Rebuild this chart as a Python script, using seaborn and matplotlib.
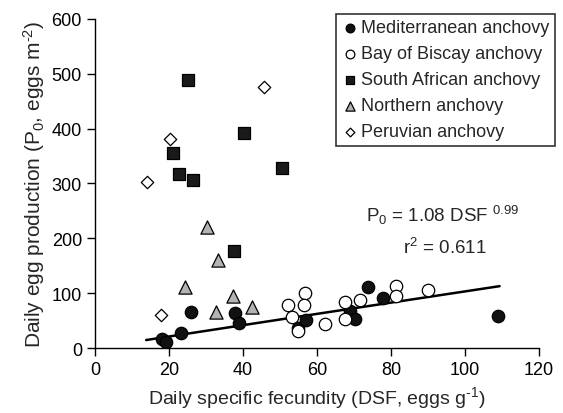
import matplotlib
matplotlib.use("Agg")
import matplotlib.pyplot as plt
import seaborn as sns
import numpy as np
import pandas as pd

sns.set_style("ticks")
plt.rcParams['font.family'] = ['Liberation Sans', 'DejaVu Sans']
plt.rcParams['mathtext.fontset'] = 'custom'
plt.rcParams['mathtext.rm'] = 'Liberation Sans'
plt.rcParams['mathtext.it'] = 'Liberation Sans'

med_x = [18.0, 19.1, 23.1, 25.8, 37.9, 38.9, 54.9, 56.9, 68.8, 70.2, 73.8, 77.9, 109.1]
med_y = [17, 11, 27, 66, 63, 46, 36, 51, 68, 52, 111, 91, 58]

bis_x = [52.1, 53.3, 54.9, 56.8, 56.4, 62.3, 67.7, 67.7, 71.7, 81.3, 81.3, 90.1]
bis_y = [79, 57, 31, 100, 79, 43, 83, 52, 88, 113, 94, 106]

saf_x = [25.2, 40.2, 21.1, 22.8, 26.5, 50.5, 37.6]
saf_y = [489, 392, 356, 317, 306, 329, 176]

nor_x = [30.3, 33.1, 24.4, 37.2, 32.6, 42.5]
nor_y = [221, 160, 111, 94, 66, 75]

per_x = [45.6, 20.3, 13.9, 17.8]
per_y = [475, 381, 303, 61]

fit_a = 1.08
fit_b = 0.99
fit_xmin, fit_xmax = 13.8, 109.4

fig = plt.figure(figsize=(5.63, 4.14), dpi=100)
ax = fig.add_axes([0.169, 0.157, 0.788, 0.795])

# regression line
fx = np.linspace(fit_xmin, fit_xmax, 100)
fy = fit_a * fx ** fit_b
sns.lineplot(x=fx, y=fy, ax=ax, color='black', lw=1.8, zorder=2)

series = [
    ("Mediterranean anchovy", med_x, med_y, 'o', '#111111', 80),
    ("Bay of Biscay anchovy", bis_x, bis_y, 'o', 'white', 80),
    ("South African anchovy", saf_x, saf_y, 's', '#1a1a1a', 80),
    ("Northern anchovy", nor_x, nor_y, '^', '#b3b3b3', 90),
    ("Peruvian anchovy", per_x, per_y, 'D', 'white', 40),
]
for name, xs, ys, mk, fc, s in series:
    df = pd.DataFrame({"x": xs, "y": ys})
    sns.scatterplot(data=df, x="x", y="y", ax=ax, marker=mk, color=fc,
                    edgecolor='black', linewidth=0.9, s=s, label=name, zorder=3)

ax.set_xlim(0, 120)
ax.set_ylim(0, 600)
ax.set_xticks(range(0, 121, 20))
ax.set_yticks(range(0, 601, 100))
ax.tick_params(labelsize=13, direction='out', length=6, width=1, colors='black')
for sp in ['left', 'bottom']:
    ax.spines[sp].set_linewidth(1)
    ax.spines[sp].set_color('black')
sns.despine(ax=ax)

ax.set_xlabel("Daily specific fecundity (DSF, eggs g$^{\u20101}$)", fontsize=14)
ax.set_ylabel("Daily egg production (P$_0$, eggs m$^{\u20102}$)", fontsize=15, labelpad=3)

ax.text(94, 244, "P$_0$ = 1.08 DSF $^{0.99}$", fontsize=13.5, ha='center', va='center')
ax.text(94.5, 184, "r$^2$ = 0.611", fontsize=13.5, ha='center', va='center')

leg = ax.legend(loc='upper right', bbox_to_anchor=(1.036, 1.015), fontsize=13,
                frameon=True, fancybox=False, edgecolor='black',
                markerscale=0.7, handletextpad=0.1, handlelength=1.0,
                borderpad=0.3, labelspacing=0.5, borderaxespad=0.0)
leg.get_frame().set_linewidth(1.2)

fig.savefig("out.png", dpi=100)
